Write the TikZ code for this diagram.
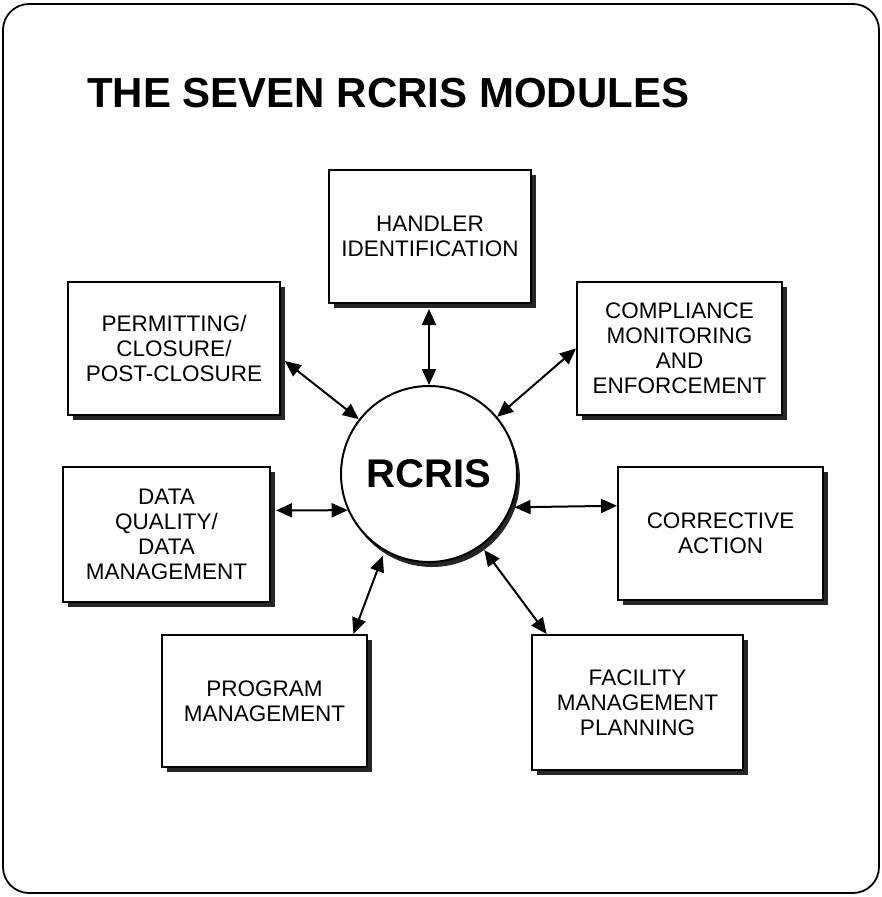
\documentclass[tikz,border=0pt]{standalone}
\usepackage{fontspec}
\setmainfont{Liberation Sans}
\usetikzlibrary{shadows,arrows.meta}

\begin{document}
\begin{tikzpicture}[x=1pt,y=-1pt,
        module/.style={draw, line width=2pt, fill=white, align=center, inner sep=0pt,
            font=\fontsize{22.5}{25}\selectfont,
            drop shadow={shadow xshift=5pt, shadow yshift=-5pt, fill=black!85, opacity=1}},
        hub/.style={circle, draw, line width=2pt, fill=white, minimum size=176pt, inner sep=0pt,
            font=\fontsize{40}{40}\selectfont\bfseries,
            drop shadow={shadow xshift=3pt, shadow yshift=-5pt, fill=black!85, opacity=1}},
        link/.style={{Triangle[length=16pt,width=14pt]}-{Triangle[length=16pt,width=14pt]}, line width=2pt}]
                \useasboundingbox (0,0) rectangle (882,897);

                % Marco
                \draw[line width=1.8pt, rounded corners=26pt] (3,4) rectangle (879,893);

                % Titulo
                \node[anchor=base west, inner sep=0pt] (title) at (87,107)
                    {\fontsize{42}{42}\selectfont\bfseries THE SEVEN RCRIS MODULES};

                % Centro
                \node[hub] (rcris) at (429,474) {RCRIS};

                % Modulos
                \node[module, minimum width=202pt, minimum height=133pt] (handler) at (430,236.5)
                    {HANDLER\\IDENTIFICATION};
                \node[module, minimum width=212pt, minimum height=133pt] (permit) at (174,348.5)
                    {PERMITTING/\\CLOSURE/\\POST-CLOSURE};
                \node[module, minimum width=205pt, minimum height=133pt] (comply) at (679.5,348.5)
                    {COMPLIANCE\\MONITORING\\AND\\ENFORCEMENT};
                \node[module, minimum width=207pt, minimum height=135pt] (dataq) at (166.5,534.5)
                    {DATA\\QUALITY/\\DATA\\MANAGEMENT};
                \node[module, minimum width=205pt, minimum height=133pt] (correct) at (720.5,533.5)
                    {CORRECTIVE\\ACTION};
                \node[module, minimum width=205pt, minimum height=132pt] (program) at (264.5,701)
                    {PROGRAM\\MANAGEMENT};
                \node[module, minimum width=211pt, minimum height=135pt] (facility) at (637.5,702.5)
                    {FACILITY\\MANAGEMENT\\PLANNING};

                % Enlaces
                \draw[link, shorten <=5pt] (handler.south -| rcris.north) -- (rcris.north);
                \draw[link, shorten <=5pt] (permit.-5) -- (rcris.142);
                \draw[link] (comply.west) -- (rcris.40);
                \draw[link, shorten <=5pt] (dataq.13) -- (rcris.204);
                \draw[link, shorten <=3pt] (rcris.-22) -- (correct.165);
                \draw[link, shorten <=5pt] (rcris.240) -- (program.37);
                \draw[link, shorten <=5pt] (rcris.-54) -- (facility.143);
\end{tikzpicture}
\end{document}
